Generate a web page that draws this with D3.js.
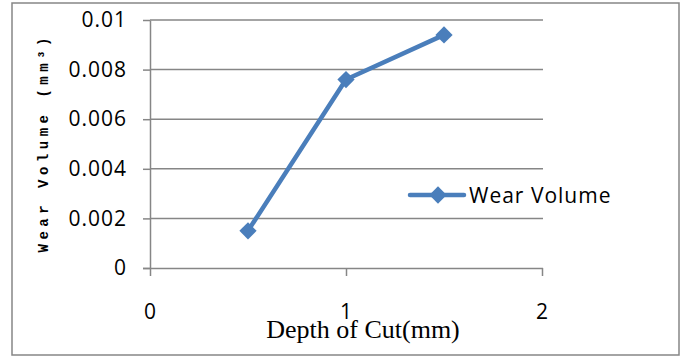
<!DOCTYPE html>
<html>
<head>
<meta charset="utf-8">
<script src="https://cdn.jsdelivr.net/npm/d3@7"></script>
<style>
  body { margin: 0; background: #fff; }
  svg { display: block; }
</style>
</head>
<body>
<svg id="chart" width="682" height="357"></svg>
<script>
/* chart data */
var depthOfCut = [0.5, 1, 1.5];
var wearVolume = [0.0015, 0.0076, 0.0094];
var xTicks = [0, 1, 2];
var yTicks = [0, 0.002, 0.004, 0.006, 0.008, 0.01];
var yTickLabels = ["0", "0.002", "0.004", "0.006", "0.008", "0.01"];
var seriesName = "Wear Volume";

var svg = d3.select('#chart'),
    plotLeft = 150, plotRight = 542, plotTop = 20, plotBottom = 268,
    blue = '#4a7ebb', grey = '#868686',
    labelFont = '"Open Sans", Lato, sans-serif';

var x = d3.scaleLinear().domain([0, 2]).range([plotLeft, plotRight]);
var y = d3.scaleLinear().domain([0, 0.01]).range([plotBottom, plotTop]);

// outer frame
svg.append('rect')
    .attr('x', 12).attr('y', 3)
    .attr('width', 667).attr('height', 352)
    .attr('fill', 'none')
    .attr('stroke', grey)
    .attr('stroke-width', 1.5);

// gridlines
svg.append('g')
  .selectAll('line')
  .data(yTicks.slice(1))
  .enter().append('line')
    .attr('x1', plotLeft).attr('x2', plotRight + 1)
    .attr('y1', function(d) { return y(d); })
    .attr('y2', function(d) { return y(d); })
    .attr('stroke', grey)
    .attr('stroke-width', 1.5);

// y axis
var yAxis = svg.append('g')
    .attr('transform', 'translate(' + plotLeft + ',0)')
    .call(d3.axisLeft(y).tickValues(yTicks)
      .tickFormat(function(d, i) { return yTickLabels[i]; })
      .tickSizeInner(7).tickSizeOuter(0).tickPadding(16));

// x axis
var xAxis = svg.append('g')
    .attr('transform', 'translate(0,' + plotBottom + ')')
    .call(d3.axisBottom(x).tickValues(xTicks)
      .tickFormat(d3.format('d'))
      .tickSizeInner(8).tickSizeOuter(0).tickPadding(28));

[yAxis, xAxis].forEach(function(ax) {
  ax.select('.domain').attr('stroke', grey).attr('stroke-width', 1.5);
  ax.selectAll('.tick line').attr('stroke', grey).attr('stroke-width', 1.5);
  ax.selectAll('.tick text')
    .attr('fill', '#000')
    .style('font-family', labelFont)
    .style('font-size', '21px')
    .style('letter-spacing', '1px');
});
xAxis.select('.domain').attr('d', 'M' + (plotLeft - 7) + ',0.5H' + (plotRight + 1));

// series line
var pts = depthOfCut.map(function(d, i) { return [d, wearVolume[i]]; });

svg.append('path')
    .datum(pts)
    .attr('fill', 'none')
    .attr('stroke', blue)
    .attr('stroke-width', 4.5)
    .attr('stroke-linejoin', 'round')
    .attr('d', d3.line()
      .x(function(d) { return x(d[0]); })
      .y(function(d) { return y(d[1]); }));

var diamond = d3.symbol().type(d3.symbolDiamond2).size(190);

svg.append('g')
  .selectAll('path')
  .data(pts)
  .enter().append('path')
    .attr('d', diamond)
    .attr('transform', function(d) { return 'translate(' + x(d[0]) + ',' + y(d[1]) + ')'; })
    .attr('fill', blue);

// legend
var legend = svg.append('g').attr('transform', 'translate(410,195)');
legend.append('line')
    .attr('x1', 0).attr('x2', 54)
    .attr('stroke', blue).attr('stroke-width', 4.5)
    .attr('stroke-linecap', 'round');
legend.append('path')
    .attr('d', diamond)
    .attr('transform', 'translate(28,0)')
    .attr('fill', blue);
legend.append('text')
    .attr('x', 59).attr('y', 8)
    .style('font-family', labelFont)
    .style('font-size', '21px')
    .style('letter-spacing', '1px')
    .text(seriesName);

// axis titles
svg.append('text')
    .attr('x', 363).attr('y', 338)
    .attr('text-anchor', 'middle')
    .style('font-family', '"Liberation Serif", "Times New Roman", serif')
    .style('font-size', '26px')
    .text('Depth of Cut(mm)');

svg.append('text')
    .attr('transform', 'translate(48,145) rotate(-90)')
    .attr('text-anchor', 'middle')
    .attr('textLength', 215)
    .style('font-family', '"Liberation Mono", "DejaVu Sans Mono", monospace')
    .style('font-size', '14px')
    .style('font-weight', 'bold')
    .text('Wear Volume (mm³)');
</script>
</body>
</html>
